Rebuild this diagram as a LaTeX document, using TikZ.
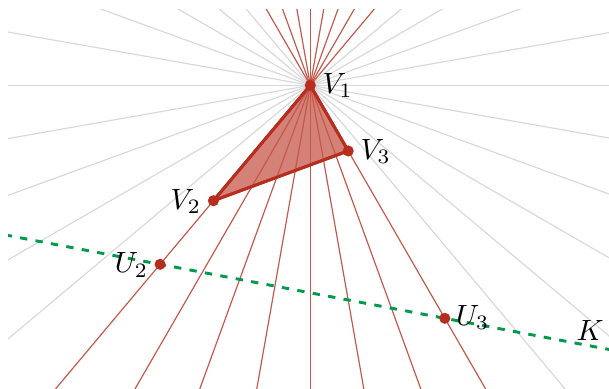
\documentclass[tikz,border=0pt]{standalone}
\usetikzlibrary{calc}
\definecolor{myred}{RGB}{183,45,30}
\definecolor{mygray}{RGB}{216,216,216}
\definecolor{mygreen}{RGB}{0,153,77}
\tikzset{
  grayline/.style={draw=mygray, line width=0.4pt},
  redline/.style={draw=myred!80, line width=0.4pt},
  tri/.style={draw=myred, line width=1pt, fill=myred, fill opacity=0.6, line join=round},
  kline/.style={draw=mygreen, line width=1pt, dash pattern=on 2.5pt off 2.85pt},
  dot/.style={circle, fill=myred, inner sep=0pt, minimum size=3.8pt},
  lab/.style={inner sep=0pt}
}
\begin{document}
\begin{tikzpicture}[x=0.3413pt, y=-0.3413pt]
\useasboundingbox (0,0) rectangle (609,388);
\coordinate (P1) at (310.3,85.3);
\coordinate (P2) at (213.4,200.7);
\coordinate (P3) at (348.2,150.9);
\coordinate (Q2) at (160.1,264.3);
\coordinate (Q3) at (444.8,318.3);
\begin{scope}
\clip (8,9) rectangle (609,388);
\foreach \a in {0,10,...,50,140,150,160,170}
  \draw[grayline] ($(P1)+(\a:900)$) -- ($(P1)+(\a+180:900)$);
\path[tri] (P1) -- (P2) -- (P3) -- cycle;
\foreach \a in {60,70,...,130}
  \draw[redline] ($(P1)+(\a:900)$) -- ($(P1)+(\a+180:900)$);
\draw[tri, fill=none] (P1) -- (P2) -- (P3) -- cycle;
\draw[kline] ($(Q2)!-0.6!(Q3)$) -- ($(Q2)!1.7!(Q3)$);
\end{scope}
\node[dot] (V1) at (P1) {};
\node[dot] (V2) at (P2) {};
\node[dot] (V3) at (P3) {};
\node[dot] (U2) at (Q2) {};
\node[dot] (U3) at (Q3) {};
\node[lab, anchor=base west] (lV1) at (322,93.3) {$V_1$};
\node[lab, anchor=base west] (lV3) at (360,159) {$V_3$};
\node[lab, anchor=base east] (lV2) at (201.5,209.3) {$V_2$};
\node[lab, anchor=base east] (lU2) at (148.5,272.7) {$U_2$};
\node[lab, anchor=base west] (lU3) at (455.5,325) {$U_3$};
\node[lab, anchor=base west] (lK) at (576,340) {$K$};
\end{tikzpicture}
\end{document}
